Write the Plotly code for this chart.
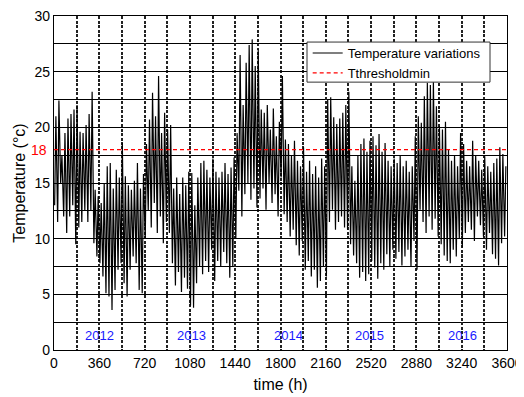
import numpy as np
import plotly.graph_objects as go

# Daily maximum / minimum temperatures (5 periods x 30 days)
hi2012 = [21, 22.4, 17.5, 19.5, 20.8, 21.2, 21.6, 22, 19.6, 19.5, 20.2, 21.2, 23.2, 14.4, 13.8,
          13.2, 15, 16.5, 16.8, 14.5, 16.2, 15.5, 18.6, 15.6, 14.8, 14.4, 15.2, 16.8, 14.5, 15.8]
lo2012 = [13, 11.5, 15, 12, 10.5, 12, 13, 9.5, 11, 11.5, 12.5, 11.5, 12.5, 9.6, 8.4,
          7.8, 6.6, 5.1, 4.8, 3.6, 5.4, 7.2, 7.8, 6.0, 4.8, 7.2, 8.4, 7.8, 5.4, 5.1]
hi2013 = [18.5, 20.7, 23.1, 21, 24.6, 19.5, 21.3, 19.8, 20.2, 14.5, 15.5, 14, 15.5, 14.8, 16,
          15.9, 13, 15.5, 16.8, 17, 16.2, 15.5, 17.2, 16, 15.5, 16, 16.8, 15.8, 16.4, 17.3]
lo2013 = [10, 12.5, 11, 13.2, 10.5, 12, 9.6, 11.5, 10.5, 7.8, 5.8, 7, 5.2, 6.5, 5.5,
          4, 3.8, 6, 7.5, 6.8, 8, 7, 9, 6.2, 8, 7.5, 8.8, 7.8, 6.5, 7.5]
hi2014 = [19.5, 26.5, 22, 25.8, 27.4, 27.9, 25.5, 27, 21.6, 21.3, 22, 19.8, 21.7, 19.2, 20.5,
          24.6, 18.9, 18.5, 17.5, 18.8, 17, 16.5, 18.2, 16, 17, 15.8, 16.5, 15.5, 17.2, 16.5]
lo2014 = [10, 14.3, 12, 14, 15, 13.5, 14.5, 12.8, 13.6, 14.5, 12.6, 15, 13.2, 14, 12,
          15.5, 12.2, 11.5, 10.2, 10.8, 9.4, 8.5, 9.8, 7.2, 8, 6.6, 7.2, 5.6, 6.2, 7.5]
hi2015 = [22.5, 22.7, 20.9, 20.3, 20.8, 21.3, 22, 23.2, 16.5, 15.2, 17.5, 18.5, 19, 17.8, 18.8,
          19.2, 18.4, 19.4, 17.8, 18.6, 17, 16.5, 17.2, 16.8, 17.5, 16.5, 17, 16, 16.5, 19.2]
lo2015 = [6.6, 11.5, 12.6, 10.8, 11.5, 12, 11, 10.8, 9.5, 8.5, 7.8, 6.5, 7, 6.2, 6.8,
          8, 7.4, 6.4, 7.8, 7.2, 8.6, 7.5, 9, 8.2, 8.8, 7.6, 8.4, 9, 7.5, 9.8]
hi2016 = [21, 20.4, 22.8, 24, 23.8, 24.1, 21.9, 20.1, 19.8, 20.5, 18, 17, 17.5, 16.5, 19.5,
          18.5, 17, 16.5, 18.8, 17.5, 17, 16.2, 17.4, 16.5, 16, 16.8, 17.2, 18.2, 17.6, 16.5]
lo2016 = [7.2, 12.6, 11.5, 10.5, 12, 10.8, 11.8, 10.2, 9.5, 8.5, 8, 7.8, 9, 8.4, 10,
          9.2, 10.5, 11.5, 10.8, 9.8, 12, 11.2, 10.2, 9, 10.5, 8.6, 8.2, 7.6, 9.6, 10.2]

threshold = 18
year_labels = ["2012", "2013", "2014", "2015", "2016"]
year_label_hours = [360, 1090, 1860, 2510, 3250]
x_ticks = [0, 360, 720, 1080, 1440, 1800, 2160, 2520, 2880, 3240, 3600]
y_ticks = [0, 5, 10, 15, 20, 25, 30]

daily_hi = hi2012 + hi2013 + hi2014 + hi2015 + hi2016
daily_lo = lo2012 + lo2013 + lo2014 + lo2015 + lo2016

# Alternate daily minimum (early morning) and maximum (afternoon)
times, temps = [], []
for d, (lo, hi) in enumerate(zip(daily_lo, daily_hi)):
    times += [d * 24 + 5, d * 24 + 15]
    temps += [lo, hi]

FONT = "Arial, Liberation Sans, sans-serif"

fig = go.Figure()
fig.add_trace(go.Scatter(x=times, y=temps, mode="lines", name="Temperature variations",
                         line=dict(color="black", width=1.2)))
fig.add_trace(go.Scatter(x=[x_ticks[0], x_ticks[-1]], y=[threshold, threshold], mode="lines",
                         name="Tthresholdmin", line=dict(color="red", width=1.4, dash="4px,3px")))

for lab, h in zip(year_labels, year_label_hours):
    fig.add_annotation(x=h, y=1.3, text=lab, showarrow=False,
                       font=dict(family=FONT, size=13, color="#1a1aff"))

fig.add_annotation(xref="paper", x=0, y=threshold, text=str(threshold), showarrow=False,
                   xanchor="right", xshift=-5, font=dict(family=FONT, size=14, color="red"))

# Legend box (white, framed) drawn above the grid
fig.add_shape(type="rect", xref="paper", yref="paper", x0=0.5585, x1=0.9625, y0=0.802, y1=0.922,
              fillcolor="white", line=dict(color="#333", width=1), layer="above")

fig.update_xaxes(range=[0, 3600], tickvals=x_ticks, showgrid=True, gridwidth=2, gridcolor="#222",
                 griddash="3px,1.5px",
                 minor=dict(dtick=180, tick0=0, showgrid=True, gridcolor="#222",
                            gridwidth=2, griddash="3px,1.5px"),
                 title=dict(text="time (h)", font=dict(family=FONT, size=16, color="black"),
                            standoff=8),
                 tickfont=dict(family=FONT, size=14, color="black"),
                 zeroline=False, showline=True, linecolor="black", linewidth=1.3, mirror=True,
                 ticks="", ticklabeloverflow="allow")
fig.update_yaxes(range=[0, 30], tickvals=y_ticks, showgrid=True, gridwidth=1.4, gridcolor="black",
                 minor=dict(dtick=2.5, tick0=0, showgrid=True, gridcolor="black", gridwidth=1.4),
                 title=dict(text="Temperature (°c)", font=dict(family=FONT, size=16, color="black"),
                            standoff=4),
                 tickfont=dict(family=FONT, size=14, color="black"),
                 zeroline=False, showline=True, linecolor="black", linewidth=1.3, mirror=True,
                 ticks="", ticklabeloverflow="allow")

# page body has an 8px margin: figure is 8px smaller so the plot lands where the reference has it
fig.update_layout(
    width=516, height=389,
    margin=dict(l=46, r=17, t=8, b=47, autoexpand=False),
    paper_bgcolor="white", plot_bgcolor="white",
    showlegend=True,
    legend=dict(x=0.56, y=0.934, xanchor="left", yanchor="top",
                bgcolor="rgba(0,0,0,0)", borderwidth=0,
                font=dict(family=FONT, size=13, color="black"),
                itemwidth=30, tracegroupgap=0),
)

fig.write_html("out.html")
